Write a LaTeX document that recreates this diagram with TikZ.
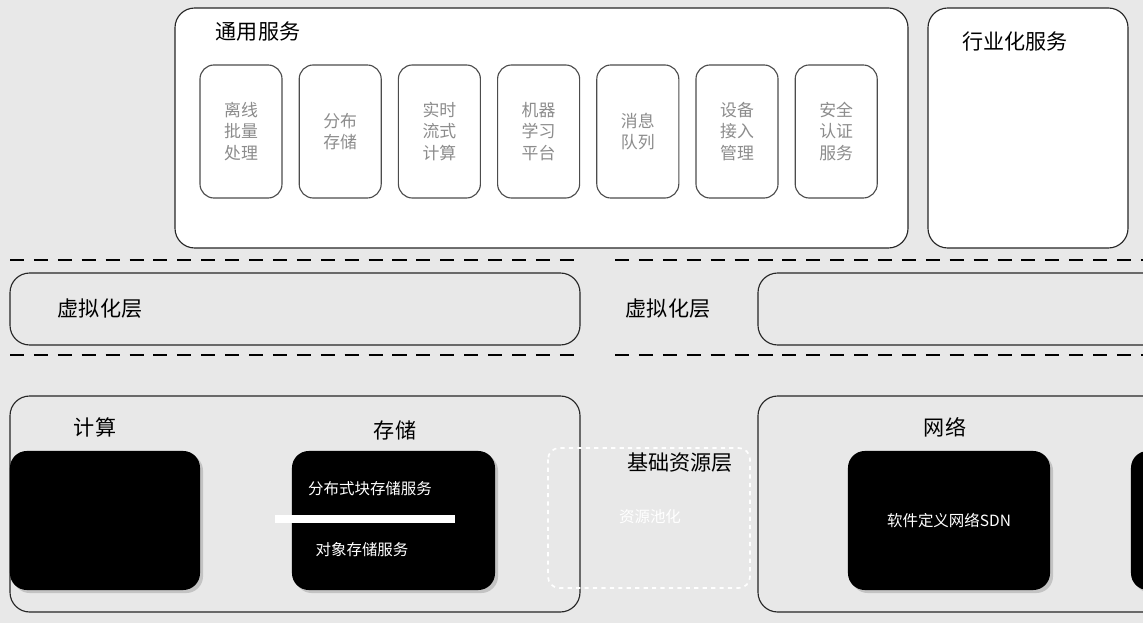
\documentclass[tikz,border=0pt]{standalone}
\usepackage{fontspec}
\newfontfamily\cjk{Noto Sans CJK SC}
\usetikzlibrary{positioning,shadows}
\tikzset{
  panel/.style={draw=black!85,line width=0.8pt,rounded corners=14pt},
  svcbox/.style={draw=black!70,fill=white,line width=0.8pt,rounded corners=10pt,
    minimum width=2.05cm,minimum height=3.325cm,align=center,text=black!45,
    font=\cjk\fontsize{12}{15}\selectfont},
  blackbox/.style={fill=black,rounded corners=12pt,drop shadow={opacity=0.35},
    align=center,text=white,font=\cjk\fontsize{11}{16}\selectfont},
  layer/.style={font=\cjk\fontsize{15}{18}\selectfont},
  sep/.style={line width=1.4pt,dash pattern=on 10pt off 7pt}
}
\begin{document}
\begin{tikzpicture}[x=0.025cm,y=-0.025cm]
\useasboundingbox (0,0) rectangle (1143,623);
\clip (0,0) rectangle (1143,623);
\fill[black!9] (0,0) rectangle (1143,623);
% service layer
\draw[panel,fill=white] (175,8) rectangle (908,248);
\draw[panel,fill=white] (928,8) rectangle (1128,248);
\node[layer] (tongyong) at (258,32) {通用服务};
\node[layer] (hangye) at (1015,42) {行业化服务};
\foreach \i/\t in {0/离线\\批量\\处理,1/分布\\存储,2/实时\\流式\\计算,3/机器\\学习\\平台,
                   4/消息\\队列,5/设备\\接入\\管理,6/安全\\认证\\服务}
  \node[svcbox] (svc\i) at ({241+99.2*\i},131.5) {\t};
\draw[sep] (10,260) -- (580,260);
\draw[sep] (615,260) -- (1143,260);
% virtualization
\draw[panel] (10,273) rectangle (580,345);
\draw[panel] (758,273) rectangle (1170,345);
\node[layer] (xunileft) at (100,309) {虚拟化层};
\node[layer] (xuniright) at (668,309) {虚拟化层};
\draw[sep] (10,355) -- (580,355);
\draw[sep] (615,355) -- (1143,355);
% base resources
\draw[panel] (10,396) rectangle (580,612);
\draw[panel] (758,396) rectangle (1170,612);
\node[layer] (jisuan) at (95,427) {计算};
\node[layer] (cunchu) at (395,430) {存储};
\node[layer] (wangluo) at (945,427) {网络};
\node[blackbox,minimum width=4.75cm,minimum height=3.475cm] (cmp) at (105,520.5) {};
\node[blackbox,minimum width=5.075cm,minimum height=3.475cm] (sto) at (393.5,520.5) {};
\node[font=\cjk\fontsize{11}{14}\selectfont,text=white] (stoa) at (370,489) {分布式块存储服务};
\node[font=\cjk\fontsize{11}{14}\selectfont,text=white] (stob) at (362,550) {对象存储服务};
\draw[white,line width=5pt] (275,519) -- (455,519);
\node[blackbox,minimum width=5.05cm,minimum height=3.475cm] (net) at (949,520.5) {软件定义网络SDN};
\node[blackbox,minimum width=5.05cm,minimum height=3.475cm] (net2) at (1232,520.5) {};
\draw[white,line width=1.2pt,dashed,rounded corners=8pt] (548,448) rectangle (750,588);
\node[layer] (jichu) at (680,463) {基础资源层};
\node[font=\cjk\fontsize{11}{14}\selectfont,text=white] (ziyuan) at (650,517) {资源池化};
\end{tikzpicture}
\end{document}
